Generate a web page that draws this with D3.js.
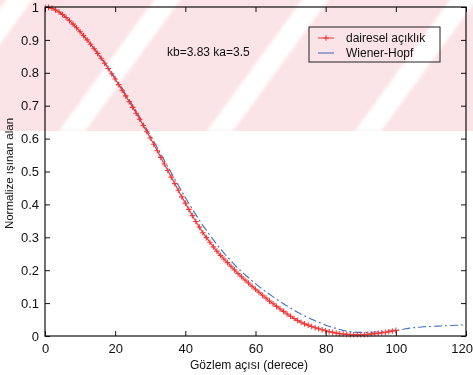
<!DOCTYPE html>
<html>
<head>
<meta charset="utf-8">
<script src="https://cdn.jsdelivr.net/npm/d3@7"></script>
<style>
  html, body { margin: 0; padding: 0; background: #ffffff; }
  svg { display: block; }
  text { font-family: "Liberation Sans", Arial, sans-serif; fill: #111; }
</style>
</head>
<body>
<svg id="chart" width="473" height="375"></svg>
<script>
// Circular aperture pattern, one sample per degree (0..100)
const apertureAngles = d3.range(0, 101, 1);
const apertureValues = [
  1.000, 0.999, 0.996, 0.991, 0.985, 0.977, 0.968, 0.958, 0.948, 0.937,
  0.925, 0.913, 0.900, 0.887, 0.873, 0.859, 0.844, 0.829, 0.813, 0.797,
  0.781, 0.764, 0.747, 0.730, 0.712, 0.695, 0.677, 0.659, 0.640, 0.621,
  0.602, 0.583, 0.563, 0.543, 0.523, 0.503, 0.483, 0.463, 0.443, 0.423,
  0.404, 0.385, 0.366, 0.348, 0.331, 0.314, 0.299, 0.285, 0.271, 0.258,
  0.245, 0.234, 0.223, 0.212, 0.201, 0.190, 0.180, 0.170, 0.161, 0.151,
  0.142, 0.133, 0.124, 0.115, 0.106, 0.098, 0.090, 0.082, 0.075, 0.067,
  0.060, 0.053, 0.047, 0.042, 0.037, 0.033, 0.029, 0.025, 0.022, 0.019,
  0.016, 0.013, 0.011, 0.009, 0.007, 0.006, 0.005, 0.004, 0.004, 0.004,
  0.004, 0.004, 0.005, 0.006, 0.007, 0.008, 0.010, 0.011, 0.013, 0.015,
  0.017
];

// Wiener-Hopf solution, every 2 degrees (0..120)
const wienerAngles = d3.range(0, 121, 2);
const wienerValues = [
  1.000, 0.996, 0.985, 0.968, 0.948, 0.925, 0.900, 0.874, 0.846, 0.816,
  0.785, 0.752, 0.718, 0.683, 0.647, 0.610, 0.572, 0.534, 0.496, 0.458,
  0.421, 0.386, 0.352, 0.321, 0.292, 0.265, 0.240, 0.217, 0.196, 0.177,
  0.159, 0.142, 0.127, 0.112, 0.098, 0.085, 0.072, 0.061, 0.051, 0.042,
  0.033, 0.026, 0.020, 0.015, 0.012, 0.011, 0.011, 0.012, 0.013, 0.015,
  0.017, 0.020, 0.024, 0.026, 0.028, 0.029, 0.030, 0.031, 0.032, 0.033,
  0.034
];

const xTicks = [0, 20, 40, 60, 80, 100, 120];
const yTicks = [0, 0.1, 0.2, 0.3, 0.4, 0.5, 0.6, 0.7, 0.8, 0.9, 1];
const seriesNames = ["dairesel açıklık", "Wiener-Hopf"];
const annotation = "kb=3.83  ka=3.5";
const xTitle = "Gözlem açısı (derece)";
const yTitle = "Normalize ışınan alan";

const svg = d3.select("#chart");
const plot = { left: 45, right: 466, top: 7, bottom: 336 };

const x = d3.scaleLinear().domain([0, 120]).range([plot.left, plot.right]);
const y = d3.scaleLinear().domain([0, 1]).range([plot.bottom, plot.top]);

const redColor = "#f03a3a";
const blueColor = "#3f6fbd";

// plot background
svg.append("rect")
  .attr("x", plot.left).attr("y", plot.top)
  .attr("width", plot.right - plot.left).attr("height", plot.bottom - plot.top)
  .attr("fill", "#fff");

// curves
svg.append("clipPath").attr("id", "plotClip")
  .append("rect")
  .attr("x", plot.left).attr("y", plot.top - 4)
  .attr("width", plot.right - plot.left).attr("height", plot.bottom - plot.top + 8);

const curves = svg.append("g").attr("clip-path", "url(#plotClip)");

const wienerData = wienerAngles.map((a, i) => [a, wienerValues[i]]);
const apertureData = apertureAngles.map((a, i) => [a, apertureValues[i]]);

curves.append("path")
  .datum(wienerData)
  .attr("d", d3.line().x(d => x(d[0])).y(d => y(d[1])).curve(d3.curveMonotoneX))
  .attr("fill", "none")
  .attr("stroke", blueColor)
  .attr("stroke-width", 1.1)
  .attr("stroke-dasharray", "8,3,2,3");

curves.append("path")
  .datum(apertureData)
  .attr("d", d3.line().x(d => x(d[0])).y(d => y(d[1])))
  .attr("fill", "none")
  .attr("stroke", redColor)
  .attr("stroke-width", 1.2);

const plusSize = 2.8;
curves.append("g").selectAll("path")
  .data(apertureData)
  .join("path")
  .attr("d", d => {
    const cx = x(d[0]), cy = y(d[1]);
    return `M${cx - plusSize},${cy}H${cx + plusSize}M${cx},${cy - plusSize}V${cy + plusSize}`;
  })
  .attr("stroke", redColor)
  .attr("stroke-width", 1.1);

// axes: box with inward ticks on all four sides
const tickLen = 5;
const axisColor = "#111";
const axes = svg.append("g");

const bottomAxis = axes.append("g")
  .attr("transform", `translate(0,${plot.bottom})`)
  .call(d3.axisBottom(x).tickValues(xTicks).tickSizeInner(-tickLen).tickSizeOuter(0).tickPadding(8).tickFormat(d3.format("d")));
const topAxis = axes.append("g")
  .attr("transform", `translate(0,${plot.top})`)
  .call(d3.axisTop(x).tickValues(xTicks).tickSizeInner(-tickLen).tickSizeOuter(0).tickFormat(""));
const leftAxis = axes.append("g")
  .attr("transform", `translate(${plot.left},0)`)
  .call(d3.axisLeft(y).tickValues(yTicks).tickSizeInner(-tickLen).tickSizeOuter(0).tickPadding(8)
    .tickFormat(d => d === 0 || d === 1 ? d3.format("d")(d) : d3.format(".1f")(d)));
const rightAxis = axes.append("g")
  .attr("transform", `translate(${plot.right},0)`)
  .call(d3.axisRight(y).tickValues(yTicks).tickSizeInner(-tickLen).tickSizeOuter(0).tickFormat(""));

[bottomAxis, topAxis, leftAxis, rightAxis].forEach(g => {
  g.select(".domain").remove();
  g.selectAll(".tick line").attr("stroke", axisColor);
  g.selectAll(".tick text").attr("fill", "#111")
    .style("font-family", '"Liberation Sans", Arial, sans-serif')
    .style("font-size", "13px");
});
leftAxis.selectAll(".tick text").attr("x", -6);
// keep the last x label inside the figure edge
bottomAxis.selectAll(".tick text").filter(d => d === 120)
  .attr("text-anchor", "end").attr("x", 6.5);

axes.append("rect")
  .attr("x", plot.left).attr("y", plot.top)
  .attr("width", plot.right - plot.left).attr("height", plot.bottom - plot.top)
  .attr("fill", "none").attr("stroke", axisColor).attr("stroke-width", 1.2);

// titles
svg.append("text")
  .attr("x", 249).attr("y", 369)
  .attr("text-anchor", "middle")
  .style("font-size", "12px")
  .text(xTitle);

svg.append("text")
  .attr("transform", `translate(13,${(plot.top + plot.bottom) / 2 + 2}) rotate(-90)`)
  .attr("text-anchor", "middle")
  .style("font-size", "11.5px")
  .text(yTitle);

svg.append("text")
  .attr("x", 167).attr("y", 56)
  .style("font-size", "12px")
  .text(annotation);

// legend
const legend = svg.append("g");
legend.append("rect")
  .attr("x", 309).attr("y", 27).attr("width", 131).attr("height", 35)
  .attr("fill", "#fff").attr("stroke", "#222").attr("stroke-width", 1);

const legendRows = [
  { name: seriesNames[0], color: redColor, marker: true },
  { name: seriesNames[1], color: blueColor, marker: false }
];
legendRows.forEach((r, i) => {
  const cy = 38 + i * 15;
  legend.append("line")
    .attr("x1", 318).attr("x2", 334).attr("y1", cy).attr("y2", cy)
    .attr("stroke", r.color).attr("stroke-width", 1);
  if (r.marker) {
    legend.append("path")
      .attr("d", `M${326 - plusSize},${cy}H${326 + plusSize}M326,${cy - plusSize}V${cy + plusSize}`)
      .attr("stroke", r.color).attr("stroke-width", 1);
  }
  legend.append("text")
    .attr("x", 346).attr("y", cy + 4)
    .style("font-size", "12px")
    .text(r.name);
});

// light diagonal-striped band across the top of the figure
const defs = svg.append("defs");
defs.append("filter").attr("id", "soft")
  .append("feGaussianBlur").attr("stdDeviation", 1.5);
const band = svg.append("g").style("mix-blend-mode", "multiply");
band.append("rect")
  .attr("x", 0).attr("y", 0).attr("width", 473).attr("height", 131)
  .attr("fill", "#fbe4e8");
const stripeTops = [22, 170, 318, 466, 614];
const stripeWidth = 26, stripeShift = 98, bandHeight = 131;
band.append("g").attr("filter", "url(#soft)")
  .selectAll("polygon")
  .data(stripeTops)
  .join("polygon")
  .attr("points", t => [
    [t - stripeWidth / 2, -4], [t + stripeWidth / 2, -4],
    [t + stripeWidth / 2 - stripeShift, bandHeight], [t - stripeWidth / 2 - stripeShift, bandHeight]
  ].map(p => p.join(",")).join(" "))
  .attr("fill", "#ffffff");
</script>
</body>
</html>
